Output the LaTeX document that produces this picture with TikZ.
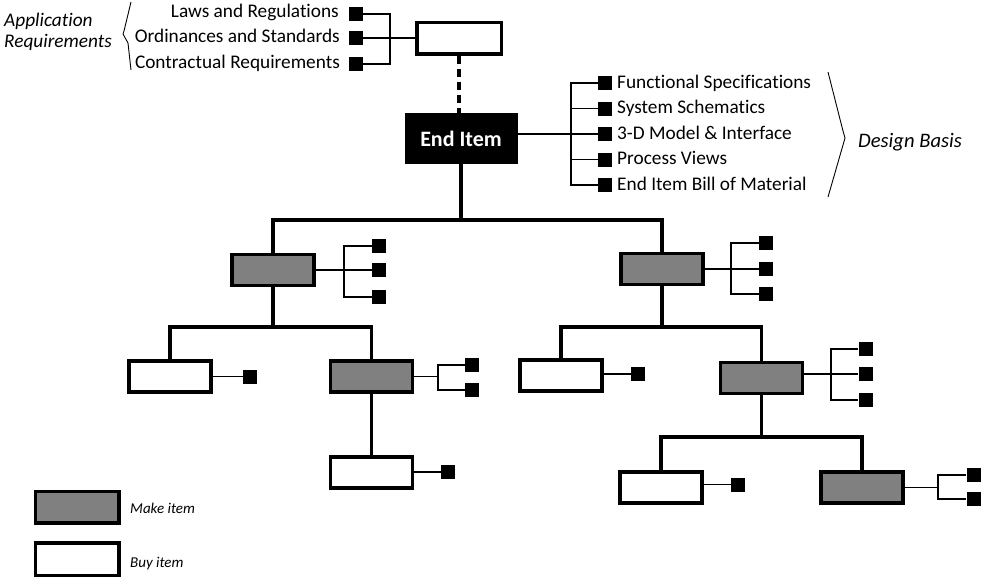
\documentclass[tikz,border=0pt]{standalone}
\usepackage{fontspec}
\setmainfont{Carlito}[Ligatures=NoCommon]
\definecolor{makegray}{HTML}{808080}
\begin{document}
\begin{tikzpicture}[x=1pt,y=-1pt,
  box/.style={draw=black, line width=3.5pt, minimum width=82pt, minimum height=31pt, inner sep=0pt},
  make/.style={box, fill=makegray},
  buy/.style={box, fill=white},
  sq/.style={fill=black, minimum size=14pt, inner sep=0pt},
  link/.style={line width=3.2pt},
  tie/.style={line width=1.3pt},
  lbl/.style={font=\fontsize{19.3}{22}\selectfont, inner sep=0pt},
  ilbl/.style={font=\itshape\fontsize{19.3}{22}\selectfont, inner sep=0pt},
  key/.style={font=\itshape\fontsize{15}{18}\selectfont, inner sep=0pt, anchor=base west},
  brk/.style={line width=0.9pt, line join=round}
]
\useasboundingbox (0,0) rectangle (981,579);

% ---- application requirements ----
\node[ilbl, anchor=base west] (appA) at (4,26) {Application};
\node[ilbl, anchor=base west] (appB) at (4,47) {Requirements};
\draw[brk] (131,2) -- (124,31) -- (123,34) -- (128,43) -- (131,70);

\node[sq] (ra) at (355.5,14) {};
\node[sq] (rb) at (355.5,38) {};
\node[sq] (rc) at (355.5,64) {};
\node[lbl, anchor=base east] (ratext) at (339,17.5) {Laws and Regulations};
\node[lbl, anchor=base east] (rbtext) at (340,42.5) {Ordinances and Standards};
\node[lbl, anchor=base east] (rctext) at (340,68) {Contractual Requirements};

\node[buy, minimum width=84.5pt, minimum height=31.5pt] (req) at (459,38) {};
\coordinate (rj) at (390,38);
\draw[tie] (ra.east) -| (rj) |- (rc.east);
\draw[tie] (rb.east) -- (req.west);

% ---- end item and design basis ----
\node[fill=black, minimum width=113pt, minimum height=51pt, inner sep=0pt,
      text=white, font=\bfseries\fontsize{22}{26}\selectfont] (end) at (461,138.5) {End Item};
\draw[link, dash pattern=on 8pt off 5pt] (req.south) -- (req.south |- end.north);

\node[sq] (da) at (605,83) {};
\node[sq] (db) at (605,108.5) {};
\node[sq] (dc) at (605,134) {};
\node[sq] (dd) at (605,159.5) {};
\node[sq] (de) at (605,185) {};
\node[lbl, anchor=base west] (datext) at (617,88) {Functional Specifications};
\node[lbl, anchor=base west] (dbtext) at (617,113.5) {System Schematics};
\node[lbl, anchor=base west] (dctext) at (617,139) {3-D Model \& Interface};
\node[lbl, anchor=base west] (ddtext) at (617,164.5) {Process Views};
\node[lbl, anchor=base west] (detext) at (617,190) {End Item Bill of Material};
\coordinate (dj) at (571,134);
\draw[tie] (end.east |- dj) -- (dc.west);
\draw[tie] (da.west) -| (dj) |- (de.west);
\draw[tie] (dj |- db.west) -- (db.west);
\draw[tie] (dj |- dd.west) -- (dd.west);

\draw[brk] (828,72) -- (843,131) -- (845,138) -- (843,145) -- (828,197);
\node[ilbl, anchor=base west, font=\itshape\fontsize{20.6}{24}\selectfont] (design) at (858,147) {Design Basis};

% ---- product tree ----
\node[make] (L1) at (273,270) {};
\node[make] (R1) at (662,269) {};
\node[buy]  (L2a) at (170,376.5) {};
\node[make] (L2b) at (371.5,376.5) {};
\node[buy]  (L3) at (371.5,472.5) {};
\node[buy]  (R2a) at (561,375.5) {};
\node[make] (R2b) at (761.5,378) {};
\node[buy]  (R3a) at (661,487.5) {};
\node[make] (R3b) at (862,487.5) {};

\coordinate (t0) at (461,220);
\coordinate (t1) at (273,327);
\coordinate (t2) at (662,327);
\coordinate (t3) at (761.5,437);

\draw[link] (end.south) -- (t0);
\draw[link] (L1.north) |- (t0) -| (R1.north);
\draw[link] (L1.south) -- (t1);
\draw[link] (L2a.north) |- (t1) -| (L2b.north);
\draw[link] (L2b.south) -- (L3.north);
\draw[link] (R1.south) -- (t2);
\draw[link] (R2a.north) |- (t2) -| (R2b.north);
\draw[link] (R2b.south) -- (t3);
\draw[link] (R3a.north) |- (t3) -| (R3b.north);

% ---- attached documents ----
\node[sq] (L1a) at (379,246) {};
\node[sq] (L1b) at (379,270) {};
\node[sq] (L1c) at (379,297) {};
\coordinate (L1j) at (344,270);
\draw[tie] (L1.east) -- (L1b.west);
\draw[tie] (L1a.west) -| (L1j) |- (L1c.west);

\node[sq] (R1a) at (766,243) {};
\node[sq] (R1b) at (766,269) {};
\node[sq] (R1c) at (766,294) {};
\coordinate (R1j) at (731,269);
\draw[tie] (R1.east) -- (R1b.west);
\draw[tie] (R1a.west) -| (R1j) |- (R1c.west);

\node[sq] (L2as) at (250,376.5) {};
\draw[tie] (L2a.east) -- (L2as.west);

\node[sq] (L2ba) at (472,365) {};
\node[sq] (L2bb) at (472,390) {};
\coordinate (L2bj) at (438,376.5);
\draw[tie] (L2b.east) -- (L2bj);
\draw[tie] (L2ba.west) -| (L2bj) |- (L2bb.west);

\node[sq] (L3s) at (448,472) {};
\draw[tie] (L3.east |- L3s.west) -- (L3s.west);

\node[sq] (R2as) at (638,374) {};
\draw[tie] (R2a.east |- R2as.west) -- (R2as.west);

\node[sq] (R2ba) at (865.5,349) {};
\node[sq] (R2bb) at (865.5,374) {};
\node[sq] (R2bc) at (865.5,400) {};
\coordinate (R2bj) at (831,374);
\draw[tie] (R2b.east |- R2bj) -- (R2bb.west);
\draw[tie] (R2ba.west) -| (R2bj) |- (R2bc.west);

\node[sq] (R3as) at (738,484.5) {};
\draw[tie] (R3a.east |- R3as.west) -- (R3as.west);

\node[sq] (R3ba) at (973.5,475) {};
\node[sq] (R3bb) at (973.5,499) {};
\coordinate (R3bj) at (938,487.5);
\draw[tie] (R3b.east) -- (R3bj);
\draw[tie] (R3ba.west) -| (R3bj) |- (R3bb.west);

% ---- legend ----
\node[make, minimum width=83.5pt, minimum height=31.5pt] (keymake) at (77,507) {};
\node[buy, minimum width=83.5pt, minimum height=32.5pt] (keybuy) at (77,559) {};
\node[key] (keymaketext) at (130,513) {Make item};
\node[key] (keybuytext) at (130,567) {Buy item};
\end{tikzpicture}
\end{document}
